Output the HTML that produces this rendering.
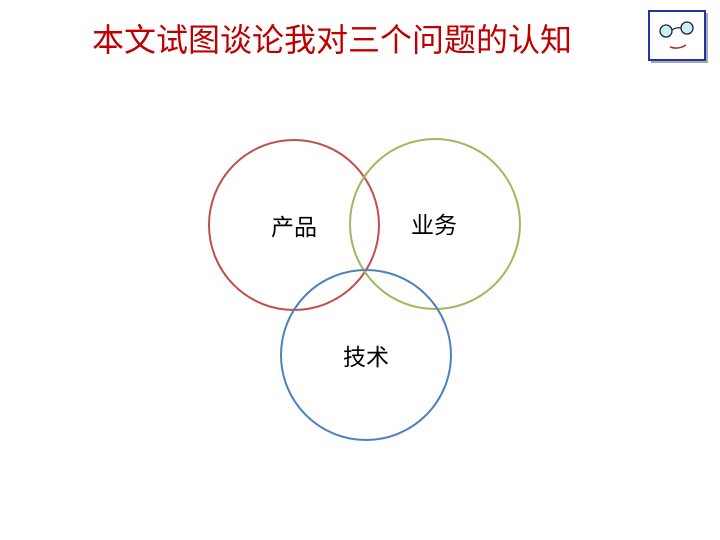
<!DOCTYPE html>
<html><head><meta charset="utf-8"><style>
body{margin:0;width:720px;height:540px;background:#fff;position:relative;overflow:hidden;font-family:"Liberation Sans","Noto Sans CJK SC",sans-serif}
.t{position:absolute;left:92px;top:20px;font-size:32px;color:#c00000;white-space:nowrap;letter-spacing:0px;line-height:40px}
.l{position:absolute;font-size:23px;color:#000;line-height:26px;white-space:nowrap}
</style></head><body>
<div class="t">本文试图谈论我对三个问题的认知</div>
<svg width="720" height="540" style="position:absolute;left:0;top:0">
<rect x="651" y="13" width="57" height="50" fill="#aaa"/>
<rect x="649" y="11" width="56" height="49" fill="#fff" stroke="#2233aa" stroke-width="2"/>
<circle cx="666" cy="31" r="6" fill="#cdeef5" stroke="#223" stroke-width="1.3"/>
<circle cx="687" cy="28" r="6" fill="#cdeef5" stroke="#223" stroke-width="1.3"/>
<path d="M672 30 Q676 27 681 28" fill="none" stroke="#223" stroke-width="1.2"/>
<path d="M670 47 Q678 50 686 45" fill="none" stroke="#c02020" stroke-width="1.5"/>
<circle cx="294" cy="225" r="85" fill="none" stroke="#c0504d" stroke-width="2"/>
<circle cx="435" cy="224" r="85" fill="none" stroke="#9bbb59" stroke-width="2"/>
<circle cx="366" cy="355" r="85" fill="none" stroke="#4f81bd" stroke-width="2"/>
</svg>
<div class="l" style="left:271px;top:214px">产品</div>
<div class="l" style="left:411px;top:212px">业务</div>
<div class="l" style="left:343px;top:344px">技术</div>
</body></html>
